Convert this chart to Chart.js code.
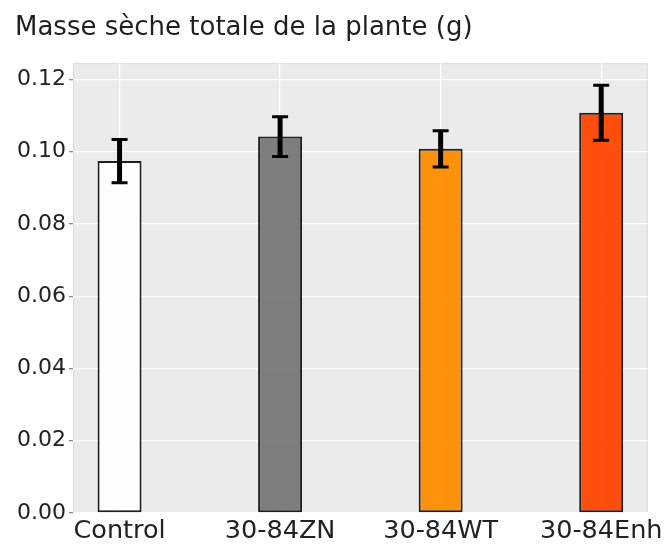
<!DOCTYPE html>
<html>
<head>
<meta charset="utf-8">
<script src="https://cdn.jsdelivr.net/npm/chart.js@4/dist/chart.umd.min.js"></script>
<style>
  html, body { margin: 0; padding: 0; background: #ffffff; }
  #wrap { width: 667px; height: 545px; }
</style>
</head>
<body>
<div id="wrap"><canvas id="massChart" width="667" height="545"></canvas></div>
<script>
// Dry mass per treatment (g), mean and error bar half-length
const categories = ['Control', '30-84ZN', '30-84WT', '30-84Enh'];
const means = [0.0974, 0.1042, 0.1008, 0.1108];
const errors = [0.0060, 0.0055, 0.0050, 0.0076];
const barColors = ['rgba(255,255,255,0.93)', 'rgba(120,120,120,0.95)', 'rgba(255,140,0,0.95)', 'rgba(255,69,0,0.95)'];
const yTicks = [0, 0.02, 0.04, 0.06, 0.08, 0.10, 0.12];

// grey panel behind the plot, ggplot style
const panelBackground = {
    id: 'panelBackground',
    beforeDraw(chart) {
        const { ctx, chartArea: a } = chart;
        ctx.save();
        ctx.fillStyle = '#ebebeb';
        ctx.fillRect(a.left, a.top, a.right - a.left, a.bottom - a.top);
        ctx.strokeStyle = '#dadada';
        ctx.lineWidth = 1;
        ctx.strokeRect(a.left + 0.5, a.top + 0.5, a.right - a.left - 1, a.bottom - a.top - 1);
        ctx.restore();
    }
};

// black error bars with caps on top of each bar
const errorBars = {
    id: 'errorBars',
    afterDatasetsDraw(chart) {
        const { ctx, scales } = chart;
        const meta = chart.getDatasetMeta(0);
        ctx.save();
        ctx.strokeStyle = '#000000';
        meta.data.forEach((bar, i) => {
            const yHi = scales.y.getPixelForValue(means[i] + errors[i]);
            const yLo = scales.y.getPixelForValue(means[i] - errors[i]);
            ctx.lineWidth = 5;
            ctx.beginPath();
            ctx.moveTo(bar.x, yHi);
            ctx.lineTo(bar.x, yLo);
            ctx.stroke();
            ctx.lineWidth = 3;
            ctx.beginPath();
            ctx.moveTo(bar.x - 8, yHi);
            ctx.lineTo(bar.x + 8, yHi);
            ctx.moveTo(bar.x - 8, yLo);
            ctx.lineTo(bar.x + 8, yLo);
            ctx.stroke();
        });
        ctx.restore();
    }
};

new Chart(document.getElementById('massChart'), {
    type: 'bar',
    data: {
        datasets: [{
            data: categories.map((c, i) => ({ x: i, y: means[i] })),
            backgroundColor: barColors,
            borderColor: '#1e1e1e',
            borderWidth: 2,
            borderSkipped: false,
            barPercentage: 0.274,
            categoryPercentage: 1
        }]
    },
    options: {
        responsive: false,
        animation: false,
        layout: { padding: { left: 15, right: 19, top: 0, bottom: 0 } },
        plugins: {
            legend: { display: false },
            tooltip: { enabled: false },
            title: {
                display: true,
                text: 'Masse sèche totale de la plante (g)',
                align: 'start',
                color: '#1f1f1f',
                font: { family: 'DejaVu Sans', size: 26, weight: 'normal' },
                padding: { top: 13, bottom: 19 }
            }
        },
        scales: {
            x: {
                type: 'linear',
                offset: false,
                min: -0.29,
                max: 3.29,
                afterBuildTicks: (scale) => { scale.ticks = categories.map((c, i) => ({ value: i })); },
                afterFit: (scale) => { scale.height = 32; },
                grid: { color: '#ffffff', lineWidth: 1.3, drawTicks: false, offset: false },
                border: { display: false },
                ticks: {
                    autoSkip: false,
                    maxRotation: 0,
                    padding: 3,
                    color: '#222222',
                    font: { family: 'DejaVu Sans', size: 25.5 },
                    callback: (value) => categories[value]
                }
            },
            y: {
                min: 0,
                max: 0.1245,
                afterBuildTicks: (scale) => { scale.ticks = yTicks.map(v => ({ value: v })); },
                afterFit: (scale) => { scale.width = 58; },
                grid: { color: '#ffffff', lineWidth: 1.3, tickColor: '#8a8a8a', tickLength: 4 },
                border: { display: false },
                ticks: {
                    padding: 3,
                    color: '#222222',
                    font: { family: 'DejaVu Sans', size: 22 },
                    callback: (value) => value.toFixed(2)
                }
            }
        }
    },
    plugins: [panelBackground, errorBars]
});
</script>
</body>
</html>
